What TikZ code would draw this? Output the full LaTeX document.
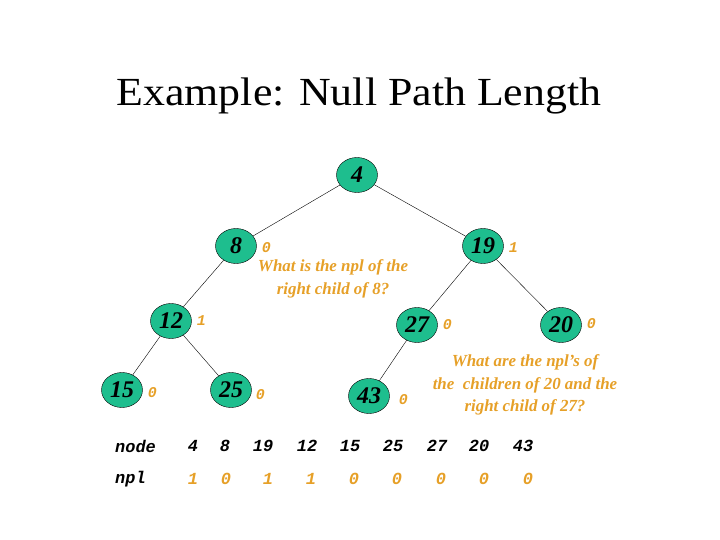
\documentclass[tikz,border=0pt]{standalone}
\usepackage{fontspec}
\setmainfont{Liberation Serif}
\setmonofont{Liberation Mono}
\usepackage{xcolor}
\usetikzlibrary{shapes.geometric,positioning}
\definecolor{heapTeal}{RGB}{30,190,142}
\definecolor{nplOrange}{RGB}{230,160,40}
\tikzset{
  hnode/.style={ellipse,draw=black,fill=heapTeal,minimum width=41bp,minimum height=35bp,
                inner sep=0pt,font=\fontsize{24}{26}\selectfont\bfseries\itshape},
  npl/.style={inner sep=1bp,text=nplOrange,font=\fontsize{15}{17}\selectfont\ttfamily\bfseries\itshape},
  quest/.style={align=center,text=nplOrange,font=\fontsize{17}{22.5}\selectfont\bfseries\itshape},
  tbl/.style={inner sep=0pt,anchor=center,font=\fontsize{17}{20}\selectfont\ttfamily\bfseries\itshape},
  edge/.style={thin,black},
}

\begin{document}
\begin{tikzpicture}[x=1bp,y=-1bp,node distance=4bp]
  \useasboundingbox (0,0) rectangle (720,540);
  \node[font=\fontsize{40}{42}\selectfont,xscale=1.1] (title) at (359,96) {Example: Null Path Length};
  % tree
  \node[hnode] (n4)  at (357,175) {4};
  \node[hnode] (n8)  at (236,246) {8};
  \node[hnode] (n19) at (483,246) {19};
  \node[hnode] (n12) at (171,321) {12};
  \node[hnode] (n27) at (417,325) {27};
  \node[hnode] (n20) at (561,325) {20};
  \node[hnode] (n15) at (122,390) {15};
  \node[hnode] (n25) at (231,390) {25};
  \node[hnode] (n43) at (369,396) {43};
  \foreach \a/\b in {n4/n8,n4/n19,n8/n12,n19/n27,n19/n20,n12/n15,n12/n25,n27/n43}
    \draw[edge] (\a)--(\b);
  % npl values
  \node[npl,right=of n8,yshift=-2bp]  (v8)  {0};
  \node[npl,right=of n19,yshift=-2bp] (v19) {1};
  \node[npl,right=of n12]             (v12) {1};
  \node[npl,right=of n27]             (v27) {0};
  \node[npl,right=of n20,yshift=1bp]  (v20) {0};
  \node[npl,right=of n15,yshift=-3bp] (v15) {0};
  \node[npl,right=3bp of n25,yshift=-5bp] (v25) {0};
  \node[npl,right=8bp of n43,yshift=-4bp] (v43) {0};
  % questions
  \node[quest] (q1) at (333,279) {What is the npl of the\\right child of 8?};
  \node[quest] (q2) at (525,385) {What are the npl's of\\the\ \ children of 20 and the\\right child of 27?};
  % table
  \node[tbl,anchor=west] (hnode) at (115,446) {node};
  \node[tbl,anchor=west] (hnpl)  at (115,479) {npl};
  \foreach \k/\x/\v/\y in {4/193/1/193,8/225/0/226,19/263/1/268,12/307/1/311,15/350/0/354,
                           25/393/0/397,27/437/0/441,20/479/0/484,43/523/0/528}{
    \node[tbl] (k\k) at (\x,446) {\k};
    \node[tbl,text=nplOrange] (p\k) at (\y,479) {\v};
  }
\end{tikzpicture}
\end{document}
